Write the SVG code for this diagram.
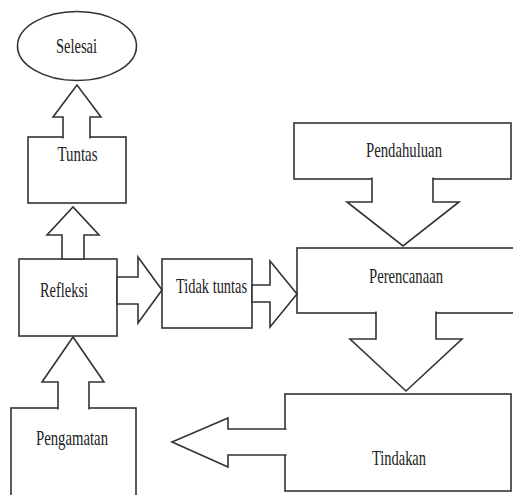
<svg xmlns="http://www.w3.org/2000/svg" width="513" height="495" viewBox="0 0 513 495">
<style>
.n{fill:#fff;stroke:#333;stroke-width:1.6}
.c{fill:#fff;stroke:#333;stroke-width:1.6;stroke-linejoin:miter}
.t{font-family:"Liberation Serif","Times New Roman",serif;font-size:22px;fill:#222;text-anchor:middle}
</style>
<rect width="513" height="495" fill="#fff"/>
<g id="selesai"><ellipse class="n" cx="77" cy="46" rx="59.5" ry="34.5"/><text class="t" x="76.5" y="53" textLength="41" lengthAdjust="spacingAndGlyphs">Selesai</text></g>
<g id="tuntas"><rect class="n" x="28" y="137" width="98" height="66"/><text class="t" x="77.5" y="161" textLength="40" lengthAdjust="spacingAndGlyphs">Tuntas</text></g>
<g id="refleksi"><rect class="n" x="19" y="259" width="98" height="77"/><text class="t" x="64" y="297" textLength="48" lengthAdjust="spacingAndGlyphs">Refleksi</text></g>
<g id="tidak-tuntas"><rect class="n" x="162" y="259" width="90" height="69"/><text class="t" x="211.5" y="293" textLength="71" lengthAdjust="spacingAndGlyphs">Tidak tuntas</text></g>
<g id="pendahuluan"><rect class="n" x="294" y="123" width="217" height="56"/><text class="t" x="404" y="157" textLength="76" lengthAdjust="spacingAndGlyphs">Pendahuluan</text></g>
<g id="perencanaan"><rect class="n" x="297" y="248" width="230" height="65"/><text class="t" x="406" y="283" textLength="74" lengthAdjust="spacingAndGlyphs">Perencanaan</text></g>
<g id="tindakan"><rect class="n" x="285" y="394" width="226" height="97"/><text class="t" x="399" y="465" textLength="54" lengthAdjust="spacingAndGlyphs">Tindakan</text></g>
<g id="pengamatan"><rect class="n" x="11" y="408" width="125" height="100"/><text class="t" x="72" y="445" textLength="72" lengthAdjust="spacingAndGlyphs">Pengamatan</text></g>
<g id="connectors">
<path class="c" d="M63,138.5 L63,117 L53,117 L77,85 L101,117 L90,117 L90,138.5"/>
<path class="c" d="M62,259 L62,235 L47,235 L73,207 L99,235 L84,235 L84,259 Z"/>
<path class="c" d="M117,277 L138,277 L138,257 L162,290 L138,323 L138,304 L117,304 Z"/>
<path class="c" d="M252,285 L270,285 L270,261 L297,294 L270,327 L270,302 L252,302 Z"/>
<path class="c" d="M372,177.5 L372,202 L347,202 L403,246 L459,202 L433,202 L433,177.5"/>
<path class="c" d="M376,311.5 L376,339 L350,339 L406,391 L462,339 L436,339 L436,311.5"/>
<path class="c" d="M286.5,429 L228,429 L228,418 L172,442 L228,467 L228,455 L286.5,455"/>
<path class="c" d="M58,409.5 L58,382 L42,382 L73,337 L104,382 L89,382 L89,409.5"/>
</g>
</svg>
